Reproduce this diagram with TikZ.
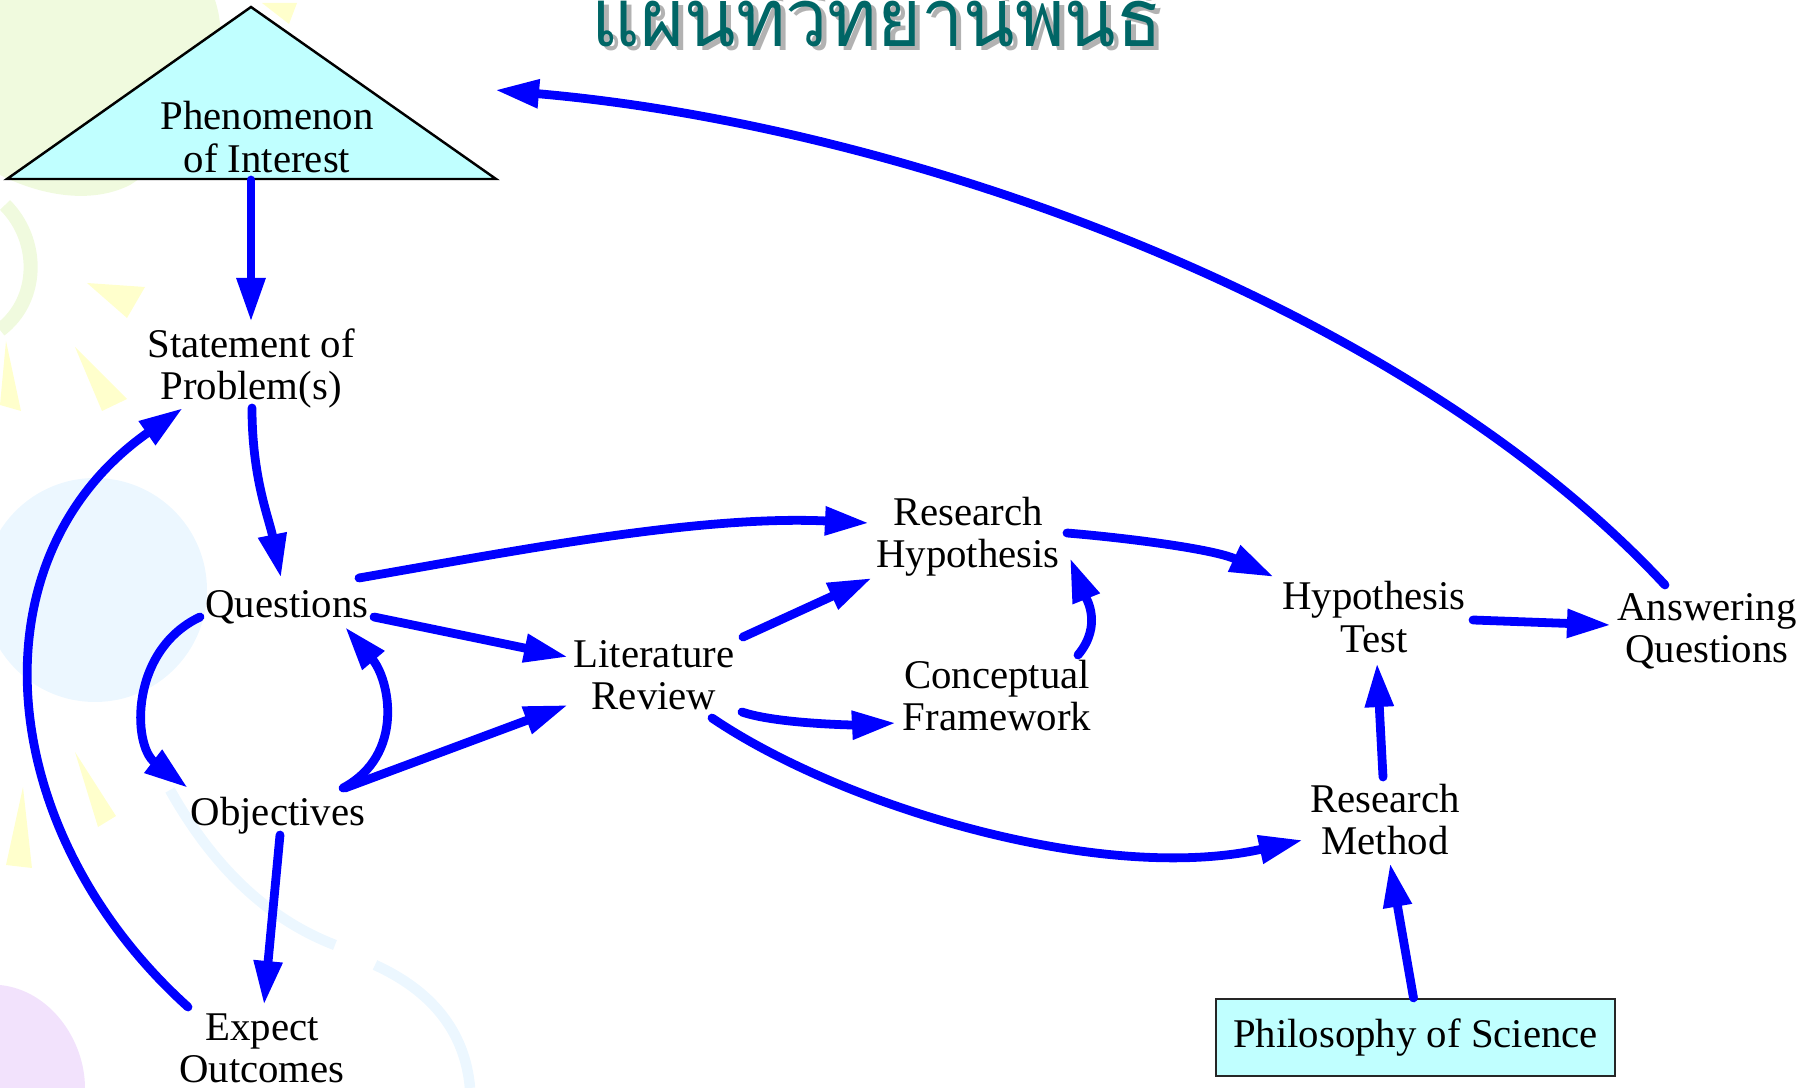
\documentclass[tikz,border=0pt]{standalone}
\usepackage{fontspec}
\setmainfont{Liberation Serif}
\newfontfamily\thaifont[Script=Thai]{Loma}
\usetikzlibrary{arrows.meta,calc}
\definecolor{arrowblue}{RGB}{0,0,255}
\definecolor{boxcyan}{RGB}{192,255,255}
\definecolor{titleteal}{RGB}{0,102,102}
\definecolor{shadowgray}{RGB}{178,178,178}
\definecolor{rayyellow}{RGB}{255,255,204}
\definecolor{bgblue}{RGB}{236,247,255}
\definecolor{bggreen}{RGB}{240,250,222}
\definecolor{bgpurple}{RGB}{242,226,252}
\newcommand\twol[2]{\begin{tabular}[t]{@{}c@{}}#1\\#2\end{tabular}}
\begin{document}
\begin{tikzpicture}[x=0.01cm,y=-0.01cm,
  lbl/.style={font=\fontsize{11.6pt}{12.2pt}\selectfont, inner sep=0pt, anchor=base},
  conn/.style={draw=arrowblue, line width=2.5pt, line cap=round, line join=miter,
    -{Triangle[length=0.44cm,width=0.27cm]}},
  ray/.style={fill=rayyellow, draw=none},
  titlefont/.style={font=\thaifont\fontsize{23pt}{26pt}\selectfont, xscale=0.93},
]
\useasboundingbox (0,0) rectangle (1814,1088);
% ---- faint background decoration ----
\fill[bggreen] (0,0) -- (215,0) .. controls (235,60) and (200,140) .. (130,185) .. controls (90,205) and (40,195) .. (0,175) -- cycle;
\draw[bggreen, line width=4pt] (5,205) .. controls (40,240) and (40,300) .. (0,330);
\fill[bgblue] (95,590) circle (112);
\draw[bgblue, line width=3pt] (170,790) .. controls (215,870) and (270,920) .. (335,945);
\draw[bgblue, line width=3pt] (375,965) .. controls (430,990) and (465,1030) .. (470,1088);
\fill[bgpurple] (0,985) .. controls (50,990) and (85,1040) .. (85,1088) -- (0,1088) -- cycle;
\fill[ray] (87,283) -- (145,287) -- (127,318) -- cycle;
\fill[ray] (75,347) -- (127,399) -- (102,411) -- cycle;
\fill[ray] (6,341) -- (21,411) -- (0,405) -- cycle;
\fill[ray] (75,752) -- (116,816) -- (98,827) -- cycle;
\fill[ray] (23,787) -- (32,868) -- (6,865) -- cycle;
\fill[ray] (262,3) -- (297,3) -- (289,24) -- cycle;
% ---- title ----
\node[anchor=base, inner sep=0pt, text=shadowgray, titlefont] (titleshadow) at (882,51) {แผนที่วิทยานิพนธ์};
\node[anchor=base, inner sep=0pt, text=titleteal, titlefont] (title) at (877,47) {แผนที่วิทยานิพนธ์};
% ---- phenomenon triangle ----
\draw[fill=boxcyan, line width=0.7pt] (251,7) coordinate (triTop) -- (496,179) coordinate (triR) -- (7,179) coordinate (triL) -- cycle;
\coordinate (triBase) at (251,180);
\coordinate (arcEnd) at (495,90);
% ---- nodes ----
\node[lbl] (Phen) at (267,130) {\twol{Phenomenon}{of Interest}};
\node[lbl] (Stmt) at (251,357) {\twol{Statement of}{Problem(s)}};
\node[lbl] (Q) at (287,617) {Questions};
\node[lbl] (Obj) at (278,825) {Objectives};
\node[lbl] (Exp) at (262,1040) {\twol{Expect}{Outcomes}};
\node[lbl] (Lit) at (654,667) {\twol{Literature}{Review}};
\node[lbl] (RH) at (968,525) {\twol{Research}{Hypothesis}};
\node[lbl] (CF) at (997,688) {\twol{Conceptual}{Framework}};
\node[lbl] (HT) at (1374,610) {\twol{Hypothesis}{Test}};
\node[lbl] (AQ) at (1707,620) {\twol{Answering}{Questions}};
\node[lbl] (RM) at (1385,812) {\twol{Research}{Method}};
\node[draw=black!85, line width=0.6pt, fill=boxcyan, minimum width=3.99cm, minimum height=0.77cm,
  inner sep=0pt, font=\fontsize{11.6pt}{12.2pt}\selectfont] (PoS) at (1415.5,1037.5) {\raisebox{-1pt}{Philosophy of Science}};
% ---- connectors ----
\draw[conn] (triBase) -- ([shift={(0,-35)}]Stmt.base);
\draw[conn] ([shift={(1,51)}]Stmt.base) .. controls +(0,70) and +(-12,-60) .. ([shift={(-6,-39)}]Q.base);
\draw[conn] ([shift={(-87,0)}]Q.base) .. controls +(-70,33) and +(-56,-43) .. ([shift={(-90,-37)}]Obj.base);
\draw[conn] ([shift={(65,-37)}]Obj.base) .. controls +(62,-33) and +(45,53) .. ([shift={(58,10)}]Q.base);
\draw[conn] ([shift={(67,-37)}]Obj.base) -- ([shift={(-86,38)}]Lit.base);
\draw[conn] ([shift={(87,0)}]Q.base) -- ([shift={(-86,-10)}]Lit.base);
\draw[conn] ([shift={(72,-39)}]Q.base) .. controls +(161,-28) and +(-169,-8) .. ([shift={(-99,-2)}]RH.base);
\draw[conn] ([shift={(89,-30)}]Lit.base) -- ([shift={(-96,53)}]RH.base);
\draw[conn] ([shift={(88,45)}]Lit.base) .. controls +(35,12) and +(-40,2) .. ([shift={(-101,35)}]CF.base);
\draw[conn] ([shift={(81,-33)}]CF.base) .. controls +(25,-30) and +(16,40) .. ([shift={(102,33)}]RH.base);
\draw[conn] ([shift={(58,51)}]Lit.base) .. controls +(128,87) and +(-203,45) .. ([shift={(-82,28)}]RM.base);
\draw[conn] ([shift={(99,8)}]RH.base) .. controls +(60,5) and +(-60,-28) .. ([shift={(-100,-33)}]HT.base);
\draw[conn] ([shift={(99,10)}]HT.base) -- ([shift={(-96,5)}]AQ.base);
\draw[conn] ([shift={(-2,-35)}]RM.base) -- ([shift={(3,53)}]HT.base);
\draw[conn] ([shift={(-2,0)}]PoS.north) -- ([shift={(5,51)}]RM.base);
\draw[conn] ([shift={(-42,-35)}]AQ.base) .. controls +(-265,-285) and +(405,35) .. (arcEnd);
\draw[conn] ([shift={(2,10)}]Obj.base) -- ([shift={(2,-35)}]Exp.base);
\draw[conn] ([shift={(-74,-33)}]Exp.base) .. controls +(-194,-175) and +(-214,150) .. ([shift={(-68,51)}]Stmt.base);
\end{tikzpicture}
\end{document}
